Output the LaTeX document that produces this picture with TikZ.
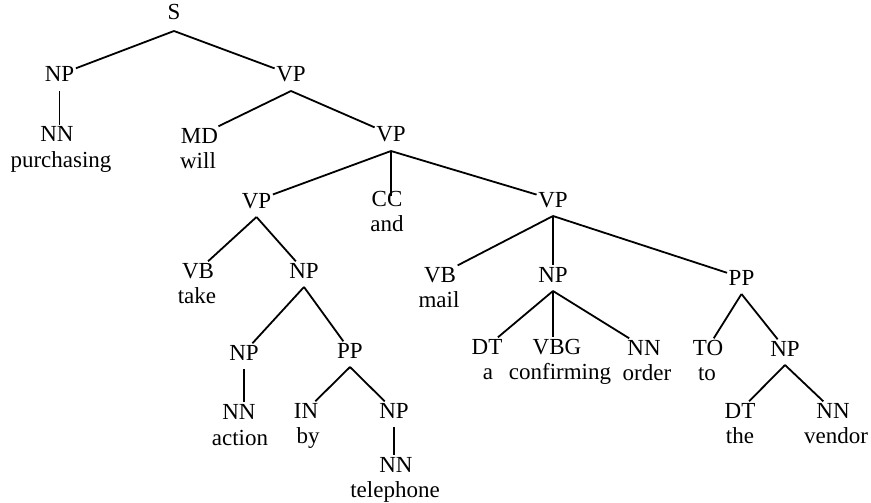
\documentclass[tikz,border=0pt]{standalone}
\usepackage{fontspec}
\setmainfont{Liberation Serif}
\begin{document}
\begin{tikzpicture}[x=1pt,y=-1pt,
  tag/.style={anchor=base,inner sep=1.5pt,text height=15pt,text depth=0pt},
  word/.style={anchor=base,inner sep=1pt},
  branch/.style={line width=1.8pt},
  every node/.style={font=\fontsize{23}{25}\selectfont}]
\useasboundingbox (0,0) rectangle (871,503);

% phrase and tag labels
\node[tag] (s) at (174,20) {S};
\node[tag] (np1) at (59.5,82) {NP};
\node[tag] (vp1) at (291,82) {VP};
\node[tag] (nn1) at (57,142) {NN};
\node[word] (w-purchasing) at (61,167) {purchasing};
\node[tag] (md) at (199.5,143) {MD};
\node[word] (w-will) at (198,168) {will};
\node[tag] (vp2) at (391,142) {VP};
\node[tag] (vp3) at (256.5,208) {VP};
\node[tag] (cc) at (387,206) {CC};
\node[word] (w-and) at (387,231) {and};
\node[tag] (vp4) at (553,207) {VP};
\node[tag] (vb1) at (198,278) {VB};
\node[word] (w-take) at (197,303) {take};
\node[tag] (np2) at (304,278) {NP};
\node[tag] (vb2) at (440,282) {VB};
\node[word] (w-mail) at (439,307) {mail};
\node[tag] (np3) at (553,282) {NP};
\node[tag] (pp1) at (741.5,285) {PP};
\node[tag] (np4) at (244,360) {NP};
\node[tag] (pp2) at (350,358) {PP};
\node[tag] (dt1) at (487,354) {DT};
\node[word] (w-a) at (488,379) {a};
\node[tag] (vbg) at (557,354) {VBG};
\node[word] (w-confirming) at (560,379) {confirming};
\node[tag] (nn2) at (644,355) {NN};
\node[word] (w-order) at (647,380) {order};
\node[tag] (to) at (708,355) {TO};
\node[word] (w-to) at (707,380) {to};
\node[tag] (np5) at (785,356) {NP};
\node[tag] (nn3) at (239,419) {NN};
\node[word] (w-action) at (240,445) {action};
\node[tag] (in) at (306,418) {IN};
\node[word] (w-by) at (308,443) {by};
\node[tag] (np6) at (394,418) {NP};
\node[tag] (nn4) at (396,472) {NN};
\node[word] (w-telephone) at (395,497) {telephone};
\node[tag] (dt2) at (740,418) {DT};
\node[word] (w-the) at (740,443) {the};
\node[tag] (nn5) at (833,418) {NN};
\node[word] (w-vendor) at (836,443) {vendor};

% foot points under each phrase label
\foreach \p in {np1,vp1,vp2,vp3,vp4,np2,np3,pp1,np4,pp2,np5,np6}
  \coordinate (\p-foot) at ([yshift=-9pt]\p.base);
\coordinate (s-foot) at ([yshift=-11pt]s.base);

% branches
\draw[branch] (s-foot) -- (np1);
\draw[branch] (s-foot) -- (vp1);
\draw[branch] (np1-foot) -- (np1-foot |- nn1.north);
\draw[branch] (vp1-foot) -- (md);
\draw[branch] (vp1-foot) -- (vp2);
\draw[branch] (vp2-foot) -- (vp3);
\draw[branch] (vp2-foot) -- ([yshift=-7pt]vp2-foot |- cc.north);
\draw[branch] (vp2-foot) -- (vp4);
\draw[branch] (vp3-foot) -- (vb1);
\draw[branch] (vp3-foot) -- (np2);
\draw[branch] (vp4-foot) -- (vb2);
\draw[branch] (vp4-foot) -- (vp4-foot |- np3.north);
\draw[branch] (vp4-foot) -- (pp1);
\draw[branch] (np2-foot) -- (np4);
\draw[branch] (np2-foot) -- (pp2);
\draw[branch] (np3-foot) -- (dt1);
\draw[branch] (np3-foot) -- (np3-foot |- vbg.north);
\draw[branch] (np3-foot) -- (nn2);
\draw[branch] (pp1-foot) -- (to);
\draw[branch] (pp1-foot) -- (np5);
\draw[branch] (np4-foot) -- (np4-foot |- nn3.north);
\draw[branch] (pp2-foot) -- (in);
\draw[branch] (pp2-foot) -- (np6);
\draw[branch] (np6-foot) -- (np6-foot |- nn4.north);
\draw[branch] (np5-foot) -- (dt2);
\draw[branch] (np5-foot) -- (nn5);
\end{tikzpicture}
\end{document}
